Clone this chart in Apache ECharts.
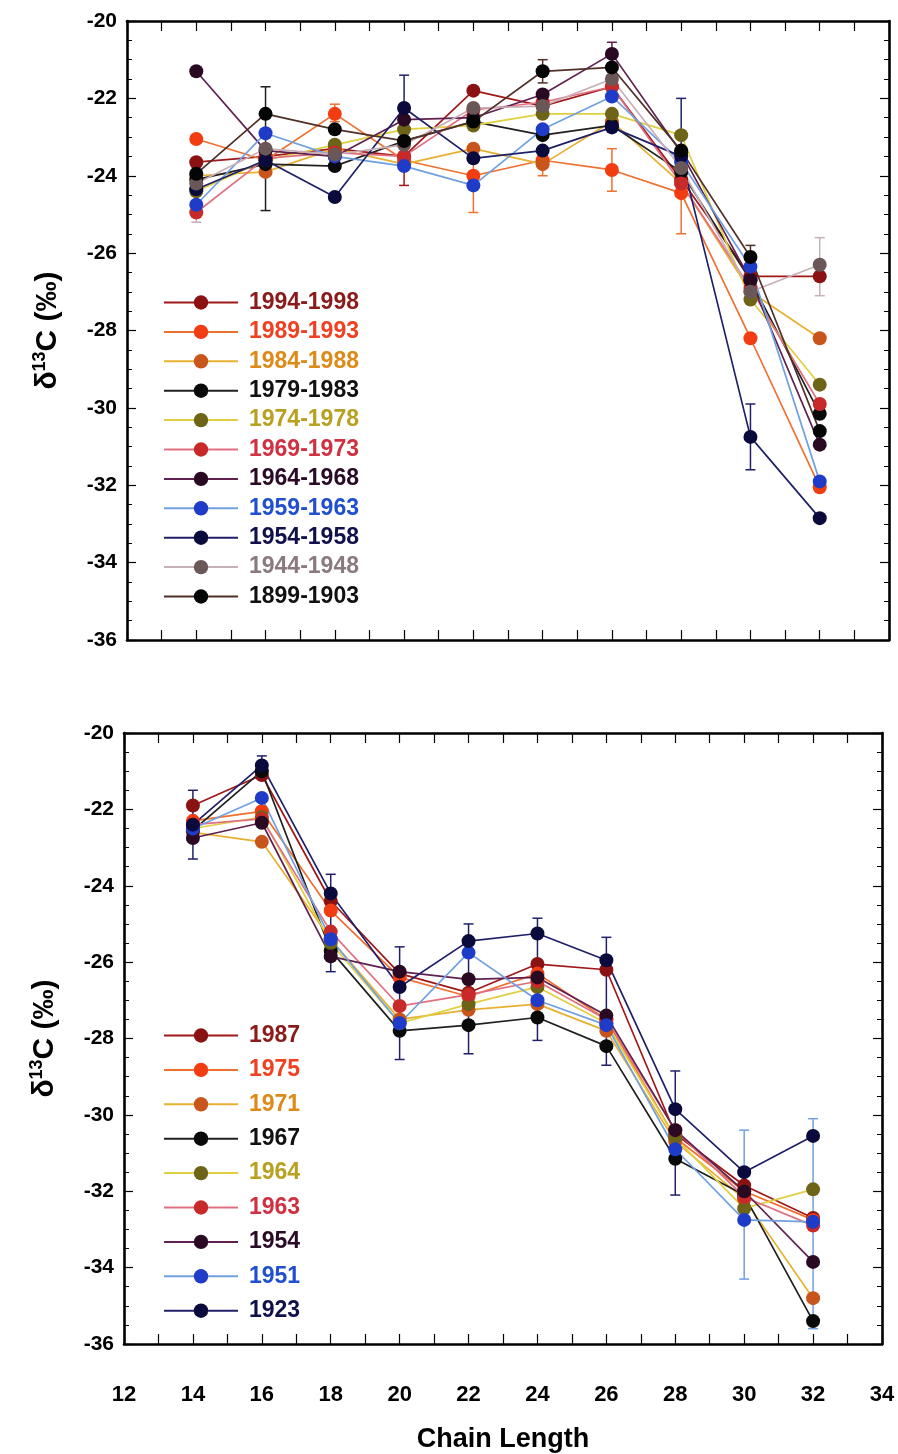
<!DOCTYPE html>
<html>
<head>
<meta charset="utf-8">
<script src="https://cdn.jsdelivr.net/npm/echarts@6/dist/echarts.min.js"></script>
<style>
html,body{margin:0;padding:0;background:#fff;}
#chart{width:898px;height:1454px;}
</style>
</head>
<body>
<div id="chart"></div>
<script>
// ---------- DATA ----------
const chain = [14, 16, 18, 20, 22, 24, 26, 28, 30, 32];
const xTicks = [12, 14, 16, 18, 20, 22, 24, 26, 28, 30, 32, 34];
const yTicks = [-36, -34, -32, -30, -28, -26, -24, -22, -20];

// top panel: 5-year bins
const topNames = ['1994-1998','1989-1993','1984-1988','1979-1983','1974-1978','1969-1973','1964-1968','1959-1963','1954-1958','1944-1948','1899-1903'];
const t1994 = [-23.65, -23.5, -23.3, -23.5, -21.8, -22.2, -21.7, -24.1, -26.6, -26.6];
const t1989 = [-23.05, -23.6, -22.4, -23.6, -24.0, -23.6, -23.85, -24.45, -28.2, -32.05];
const t1984 = [-24.0, -23.9, -23.3, -23.7, -23.3, -23.7, -22.6, -24.2, -27.0, -28.2];
const t1979 = [-24.1, -23.7, -23.75, -23.1, -22.6, -22.95, -22.7, -23.9, -26.7, -30.15];
const t1974 = [-24.4, -23.6, -23.2, -22.8, -22.7, -22.4, -22.4, -22.95, -27.2, -29.4];
const t1969 = [-24.95, -23.55, -23.4, -23.5, -22.3, -22.1, -21.7, -24.2, -26.9, -29.9];
const t1964 = [-21.3, -23.35, -23.5, -22.55, -22.5, -21.9, -20.85, -23.4, -26.7, -30.95];
const t1959 = [-24.75, -22.9, -23.5, -23.75, -24.25, -22.8, -21.95, -23.65, -26.35, -31.9];
const t1954 = [-24.35, -23.6, -24.55, -22.25, -23.55, -23.35, -22.75, -23.5, -30.75, -32.85];
const t1944 = [-24.2, -23.3, -23.45, -23.2, -22.25, -22.2, -21.5, -23.8, -27.0, -26.3];
const t1899 = [-23.95, -22.4, -22.8, -23.1, -22.6, -21.3, -21.2, -23.35, -26.1, -30.6];
const topValues = [t1994, t1989, t1984, t1979, t1974, t1969, t1964, t1959, t1954, t1944, t1899];

// top panel error bars: [chain length, upper, lower, series]
const topErr = [
  [14, -24.7, -25.2, '1944-1948'],
  [16, -21.7, -24.9, '1979-1983'],
  [18, -22.15, -22.6, '1989-1993'],
  [20, -21.4, -23.1, '1954-1958'],
  [20, -23.8, -24.25, '1994-1998'],
  [22, -23.6, -24.95, '1989-1993'],
  [24, -21.0, -21.6, '1899-1903'],
  [24, -23.5, -24.0, '1989-1993'],
  [26, -20.55, -21.1, '1964-1968'],
  [26, -23.3, -24.4, '1989-1993'],
  [28, -22.0, -23.7, '1954-1958'],
  [28, -24.4, -25.5, '1989-1993'],
  [30, -25.8, -26.3, '1899-1903'],
  [30, -29.9, -31.6, '1954-1958'],
  [32, -25.6, -27.1, '1944-1948']
];

// bottom panel: single years
const botNames = ['1987','1975','1971','1967','1964','1963','1954','1951','1923'];
const b1987 = [-21.9, -21.1, -24.4, -26.3, -26.8, -26.05, -26.2, -30.5, -31.85, -32.7];
const b1975 = [-22.3, -22.05, -24.65, -26.4, -26.9, -26.3, -27.5, -30.6, -32.0, -32.75];
const b1971 = [-22.6, -22.85, -25.4, -27.5, -27.25, -27.1, -27.8, -30.7, -32.2, -34.8];
const b1967 = [-22.55, -21.0, -25.7, -27.8, -27.65, -27.45, -28.2, -31.15, -32.1, -35.4];
const b1964 = [-22.5, -22.2, -25.5, -27.6, -27.1, -26.65, -27.6, -30.6, -32.45, -31.95];
const b1963 = [-22.4, -22.25, -25.2, -27.15, -26.85, -26.5, -27.5, -30.4, -32.15, -32.9];
const b1954 = [-22.75, -22.35, -25.85, -26.25, -26.45, -26.4, -27.4, -30.4, -32.0, -33.85];
const b1951 = [-22.5, -21.7, -25.4, -27.6, -25.75, -27.0, -27.65, -30.9, -32.75, -32.8];
const b1923 = [-22.4, -20.85, -24.2, -26.65, -25.45, -25.25, -25.95, -29.85, -31.5, -30.55];
const botValues = [b1987, b1975, b1971, b1967, b1964, b1963, b1954, b1951, b1923];

const botErr = [
  [14, -21.5, -23.3, '1923'],
  [16, -20.6, -21.2, '1923'],
  [18, -23.7, -26.25, '1923'],
  [20, -25.6, -28.55, '1923'],
  [22, -25.0, -28.4, '1923'],
  [24, -24.85, -28.05, '1923'],
  [26, -25.35, -28.7, '1923'],
  [28, -28.85, -32.1, '1923'],
  [30, -30.4, -34.3, '1951'],
  [32, -30.1, -35.6, '1951']
];

// ---------- STYLES ----------
const topMarker = ['#8b1212','#f23c12','#c8561c','#0a0a0a','#6e6418','#c82a2a','#2a0a22','#1e3cc8','#0a0a3c','#6a5858','#050505'];
const topLine   = ['#a01818','#f07030','#e8b030','#202020','#e0cf40','#e07080','#602050','#70a0e0','#20206a','#c8b0b8','#503028'];
const topText   = ['#8b1a1a','#f04020','#de8a18','#111111','#b8a020','#d03040','#2a0a25','#2050d0','#10104a','#8a7a80','#111111'];
const botMarker = ['#8b1212','#f23c12','#c8561c','#0a0a0a','#6e6418','#c82a2a','#2a0a22','#1e3cc8','#0a0a3c'];
const botLine   = ['#a01818','#f07030','#e8b030','#202020','#e0cf40','#e07080','#602050','#70a0e0','#20206a'];
const botText   = ['#8b1a1a','#f04020','#de8a18','#111111','#b8a020','#d03040','#2a0a25','#2050d0','#10104a'];

const FONT = "'Liberation Sans', Arial, sans-serif";

const chart = echarts.init(document.getElementById('chart'), null, {renderer: 'canvas'});

function lineSeries(names, values, markers, lines, xi, yi) {
  return names.map((n, i) => ({
    name: n, type: 'line', xAxisIndex: xi, yAxisIndex: yi,
    data: chain.map((c, k) => [c, values[i][k]]),
    symbol: 'circle', symbolSize: 14,
    itemStyle: {color: markers[i]},
    lineStyle: {color: lines[i], width: 1.7},
    z: 3, animation: false
  }));
}

function errSeries(errs, names, colors, xi, yi) {
  return {
    type: 'custom', xAxisIndex: xi, yAxisIndex: yi, silent: true, z: 2,
    data: errs.map(e => [e[0], e[1], e[2], names.indexOf(e[3])]),
    encode: {x: 0, y: [1, 2]},
    renderItem: function (params, api) {
      const x = api.value(0);
      const p1 = api.coord([x, api.value(1)]);
      const p2 = api.coord([x, api.value(2)]);
      const col = colors[api.value(3)];
      const w = 5;
      const st = {stroke: col, lineWidth: 1.5};
      return {type: 'group', children: [
        {type: 'line', shape: {x1: p1[0], y1: p1[1], x2: p2[0], y2: p2[1]}, style: st},
        {type: 'line', shape: {x1: p1[0] - w, y1: p1[1], x2: p1[0] + w, y2: p1[1]}, style: st},
        {type: 'line', shape: {x1: p2[0] - w, y1: p2[1], x2: p2[0] + w, y2: p2[1]}, style: st}
      ]};
    },
    animation: false
  };
}

function xAxisDef(gi, pos, labels) {
  return {
    type: 'value', gridIndex: gi, position: pos, min: xTicks[0], max: xTicks[xTicks.length - 1], interval: 2,
    axisLine: {show: true, onZero: false, lineStyle: {color: '#000', width: 2.6}},
    axisTick: {show: true, inside: true, length: 10, lineStyle: {color: '#000', width: 1.2}},
    minorTick: {show: true, splitNumber: 2, length: 10, lineStyle: {color: '#000', width: 1.2}},
    splitLine: {show: false},
    axisLabel: {show: labels, margin: 40, color: '#000', fontFamily: FONT, fontWeight: 'bold', fontSize: 22},
    name: labels ? 'Chain Length' : '', nameLocation: 'middle', nameGap: 82,
    nameTextStyle: {color: '#000', fontFamily: FONT, fontWeight: 'bold', fontSize: 27}
  };
}
function yAxisDef(gi, pos, labels) {
  return {
    type: 'value', gridIndex: gi, position: pos, min: yTicks[0], max: yTicks[yTicks.length - 1], interval: 2,
    axisLine: {show: true, onZero: false, lineStyle: {color: '#000', width: 2.6}},
    axisTick: {show: true, inside: true, length: 9, lineStyle: {color: '#000', width: 1.2}},
    minorTick: {show: true, splitNumber: 4, length: 5, lineStyle: {color: '#000', width: 1}},
    splitLine: {show: false},
    axisLabel: {show: labels, margin: 10, color: '#000', fontFamily: FONT, fontWeight: 'bold', fontSize: 21},
    name: labels ? '{d|δ}{s|13}{d|C (‰)}' : '', nameLocation: 'middle', nameGap: 62, nameRotate: 90,
    nameTextStyle: {
      color: '#000', fontFamily: FONT, fontWeight: 'bold',
      rich: {
        d: {fontSize: 30, fontWeight: 'bold', fontFamily: FONT, color: '#000', lineHeight: 34},
        s: {fontSize: 18, fontWeight: 'bold', fontFamily: FONT, color: '#000', lineHeight: 34, padding: [0, 0, 16, 0]}
      }
    }
  };
}

function legendDef(names, colors, top, gap) {
  return {
    orient: 'vertical', left: 158, top: top, itemWidth: 74, itemHeight: 18, itemGap: gap,
    selectedMode: false,
    data: names.map((n, i) => ({name: n, textStyle: {color: colors[i]}})),
    textStyle: {fontFamily: FONT, fontWeight: 'bold', fontSize: 23, lineHeight: 22, padding: [0, 0, 0, 6]}
  };
}

const option = {
  backgroundColor: '#fff',
  animation: false,
  grid: [
    {left: 127, top: 21, width: 762, height: 619},
    {left: 124, top: 733, width: 758, height: 615}
  ],
  xAxis: [xAxisDef(0, 'bottom', false), xAxisDef(0, 'top', false), xAxisDef(1, 'bottom', true), xAxisDef(1, 'top', false)],
  yAxis: [yAxisDef(0, 'left', true), yAxisDef(0, 'right', false), yAxisDef(1, 'left', true), yAxisDef(1, 'right', false)],
  legend: [legendDef(topNames, topText, 286, 6.4), legendDef(botNames, botText, 1019, 11.4)],
  series: [].concat(
    [errSeries(topErr, topNames, topLine.map((c, i) => i === 8 ? '#20206a' : c), 0, 0)],
    lineSeries(topNames, topValues, topMarker, topLine, 0, 0),
    [errSeries(botErr, botNames, botLine, 2, 2)],
    lineSeries(botNames, botValues, botMarker, botLine, 2, 2)
  )
};
chart.setOption(option);
</script>
</body>
</html>
